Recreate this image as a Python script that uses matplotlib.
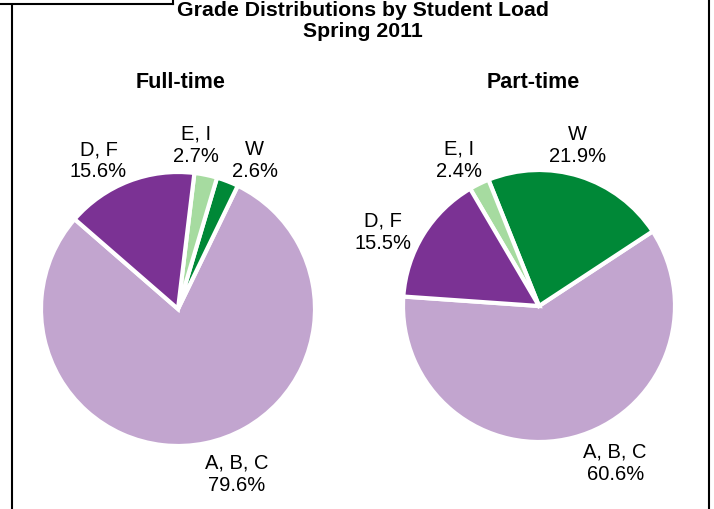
import matplotlib
matplotlib.use("Agg")
import matplotlib.pyplot as plt
from matplotlib.lines import Line2D

plt.rcParams["font.family"] = ["Liberation Sans", "DejaVu Sans"]

# Grade categories in drawing order (counterclockwise)
categories = ["A, B, C", "W", "E, I", "D, F"]
full_time = [79.6, 2.6, 2.7, 15.6]
part_time = [60.6, 21.9, 2.4, 15.5]
colors = ["#C2A5CF", "#008837", "#A6DBA0", "#7B3294"]

title = "Grade Distributions by Student Load\nSpring 2011"
panel_titles = ["Full-time", "Part-time"]

W, H = 714, 510
fig = plt.figure(figsize=(W / 100, H / 100), dpi=100)


def px_axes(cx, cy, r):
    return fig.add_axes([(cx - r) / W, (H - cy - r) / H, 2 * r / W, 2 * r / H])


def draw_pie(ax, values, start, label_pos):
    ax.pie(values, colors=colors, startangle=start, counterclock=True,
           wedgeprops=dict(edgecolor="white", linewidth=3))
    ax.set_xlim(-1, 1)
    ax.set_ylim(-1, 1)
    ax.set_aspect("equal")
    ax.axis("off")
    for cat, val, (x, y) in zip(categories, values, label_pos):
        ax.text(x, y, f"{cat}\n{val:.1f}%", ha="center", va="center",
                fontsize=14.5, linespacing=1.22, clip_on=False)


# label offsets in units of pie radius
full_pos = [(0.43, -1.20), (0.56, 1.09), (0.13, 1.20), (-0.58, 1.09)]
part_pos = [(0.56, -1.15), (0.28, 1.19), (-0.59, 1.08), (-1.15, 0.55)]

ax1 = px_axes(178, 310, 137)
draw_pie(ax1, full_time, 139, full_pos)
ax2 = px_axes(539, 307, 136)
draw_pie(ax2, part_time, 176, part_pos)

fig.text(363 / W, 1 - 21 / H, title, ha="center", va="center",
         fontsize=15.3, fontweight="bold", linespacing=1.12)
fig.text(181 / W, 1 - 83 / H, panel_titles[0], ha="center", va="center",
         fontsize=15.5, fontweight="bold")
fig.text(533 / W, 1 - 83 / H, panel_titles[1], ha="center", va="center",
         fontsize=15.5, fontweight="bold")

# frame pieces
lw = 1.5
fig.add_artist(Line2D([12 / W, 12 / W], [0, 1 - 7 / H], color="black", lw=lw))
fig.add_artist(Line2D([0, 173 / W], [1 - 5 / H, 1 - 5 / H], color="black", lw=lw))
fig.add_artist(Line2D([173 / W, 173 / W], [1 - 5 / H, 1], color="black", lw=lw))
fig.add_artist(Line2D([709 / W, 709 / W], [0, 1], color="black", lw=lw))

fig.savefig("out.png", dpi=100)
